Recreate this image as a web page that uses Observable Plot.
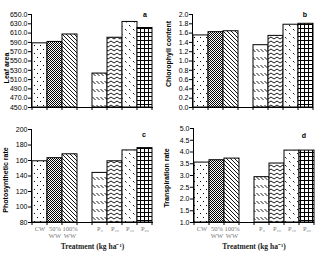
<!DOCTYPE html>
<html><head><meta charset="utf-8">
<script src="https://cdn.jsdelivr.net/npm/d3@7"></script>
<script src="https://cdn.jsdelivr.net/npm/@observablehq/plot@0.6"></script>
<style>
body{margin:0;background:#fff;}
#c{position:relative;width:321px;height:255px;overflow:hidden;background:#fff}
#c svg{position:absolute;overflow:visible}
</style>
</head><body><div id="c"></div>
<script>
// ---- data ----
const controlGroup = ["CW", "50%\nWW", "100%\nWW"];
const productGroup = ["P₀", "P₂₀", "P₄₀", "P₆₀"];
const treatments = [...controlGroup, ...productGroup];
const leafArea = [588, 591, 607, 523, 600, 634, 621];
const chlorophyll = [1.55, 1.62, 1.64, 1.34, 1.54, 1.78, 1.80];
const photosynthesis = [159, 163, 168, 144, 159, 173, 176];
const transpiration = [3.55, 3.65, 3.72, 2.93, 3.51, 4.06, 4.06];
const leafTicks = [450, 470, 490, 510, 530, 550, 570, 590, 610, 630, 650];
const chlTicks = [0, 0.2, 0.4, 0.6, 0.8, 1.0, 1.2, 1.4, 1.6, 1.8, 2.0];
const photoTicks = [80, 100, 120, 140, 160, 180, 200];
const transTicks = [1.0, 1.5, 2.0, 2.5, 3.0, 3.5, 4.0, 4.5, 5.0];
const xTitle = "Treatment (kg ha⁻¹)";

// x domain: two groups separated by an empty slot
const slots = [...controlGroup, " ", ...productGroup];

const patterns = (p) => `
<pattern id="${p}0" width="6" height="8" patternUnits="userSpaceOnUse"><rect width="6" height="8" fill="#fff"/><rect x="1" y="1" width="1" height="1" fill="#000"/><rect x="4" y="5" width="1" height="1" fill="#000"/></pattern>
<pattern id="${p}1" width="2" height="2" patternUnits="userSpaceOnUse"><rect width="2" height="2" fill="#fff"/><rect x="0" y="0" width="1" height="1" fill="#000"/><rect x="1" y="1" width="1" height="1" fill="#000"/></pattern>
<pattern id="${p}2" width="4" height="4" patternUnits="userSpaceOnUse"><rect width="4" height="4" fill="#fff"/><path d="M-1,-1L5,5M-1,3L1,5M3,-1L5,1" stroke="#000" stroke-width="0.9"/></pattern>
<pattern id="${p}3" width="4" height="8" patternUnits="userSpaceOnUse"><rect width="4" height="8" fill="#fff"/><path d="M0.5,1L3.5,4" stroke="#000" stroke-width="0.9"/></pattern>
<pattern id="${p}4" width="6" height="4" patternUnits="userSpaceOnUse"><rect width="6" height="4" fill="#fff"/><path d="M0,3L3,1L6,3" stroke="#000" stroke-width="0.9" fill="none"/></pattern>
<pattern id="${p}5" width="8" height="8" patternUnits="userSpaceOnUse"><rect width="8" height="8" fill="#fff"/><path d="M1,1L2.5,2.5M5,5L6.5,6.5" stroke="#000" stroke-width="0.9"/></pattern>
<pattern id="${p}6" width="4" height="4" patternUnits="userSpaceOnUse"><rect width="4" height="4" fill="#fff"/><path d="M0,0.5H4M0.5,0V4" stroke="#000" stroke-width="1"/></pattern>`;

function panel(o) {
  const data = treatments.map((t, i) => ({t, v: o.values[i], i}));
  const marks = data.map(d => Plot.barY([d], {
    x: "t", y1: o.ticks[0], y2: "v",
    fill: `url(#${o.key}${d.i})`, stroke: "#000", strokeWidth: 1
  }));
  marks.push(Plot.ruleY([o.ticks[0]], {stroke: "#000", strokeWidth: 1}));
  if (o.showX) {
    marks.push(Plot.text(treatments, {
      x: d => d, frameAnchor: "bottom", lineAnchor: "top", dy: 3,
      fontFamily: "Liberation Serif", fontSize: 6.5, fill: "#777", lineHeight: 1.15
    }));
    marks.push(Plot.text([xTitle], {
      frameAnchor: "bottom", lineAnchor: "middle", dy: 24,
      fontFamily: "Liberation Serif", fontSize: 7.5, fontWeight: "bold", fill: "#222"
    }));
  }
  const plot = Plot.plot({
    width: o.width, height: o.height,
    marginLeft: o.m[0], marginRight: o.m[1], marginTop: o.m[2], marginBottom: o.m[3],
    style: {fontFamily: "Liberation Sans", fontSize: "7px", background: "transparent", color: "#000"},
    x: {type: "band", domain: slots, padding: 0, axis: null},
    y: {domain: [o.ticks[0], o.ticks[o.ticks.length - 1]], ticks: o.ticks,
        tickFormat: d3.format(o.fmt), tickSize: 3, tickPadding: 1, label: null},
    marks
  });
  plot.style.left = o.left + "px";
  plot.style.top = o.top + "px";
  const svg = d3.select(plot);
  svg.insert("defs", ":first-child").html(patterns(o.key));
  const xs = plot.scale("x"), ys = plot.scale("y");
  const yb = ys.apply(o.ticks[0]), yt = ys.apply(o.ticks[o.ticks.length - 1]);
  const x0 = o.m[0];
  const g = svg.append("g").attr("stroke", "#000").attr("stroke-width", 1);
  g.append("line").attr("x1", x0 + 0.5).attr("x2", x0 + 0.5).attr("y1", yt).attr("y2", yb);
  const edges = slots.map(s => xs.apply(s)).concat([xs.apply(slots[slots.length - 1]) + xs.bandwidth]);
  edges.forEach(e => g.append("line").attr("x1", e).attr("x2", e).attr("y1", yb).attr("y2", yb + 3));
  svg.append("text").attr("transform", `translate(${o.title[1]},${o.title[2]}) rotate(-90)`)
    .attr("text-anchor", "middle").attr("dominant-baseline", "middle")
    .attr("font-family", "Liberation Sans").attr("font-size", 7).attr("font-weight", "bold")
    .text(o.title[0]);
  svg.append("text").attr("x", o.letter[1]).attr("y", o.letter[2])
    .attr("text-anchor", "middle").attr("dominant-baseline", "middle")
    .attr("font-family", "Liberation Sans").attr("font-size", 7).attr("font-weight", "bold")
    .text(o.letter[0]);
  document.getElementById("c").appendChild(plot);
}

panel({key: "pa", values: leafArea, ticks: leafTicks, fmt: ".1f", left: 0, top: 0, width: 160, height: 120,
  m: [31, 7, 14, 13], title: ["Leaf area", 7, 68], letter: ["a", 145, 15], showX: false});
panel({key: "pb", values: chlorophyll, ticks: chlTicks, fmt: ".1f", left: 160, top: 0, width: 161, height: 120,
  m: [32, 8, 14, 13], title: ["Chlorophyll content", 9, 54], letter: ["b", 145, 15], showX: false});
panel({key: "pc", values: photosynthesis, ticks: photoTicks, fmt: "d", left: 0, top: 120, width: 160, height: 135,
  m: [31, 7, 9, 33], title: ["Photosynthetic rate", 6, 60], letter: ["c", 144, 15], showX: true});
panel({key: "pd", values: transpiration, ticks: transTicks, fmt: ".1f", left: 160, top: 120, width: 161, height: 135,
  m: [33, 7, 8, 33], title: ["Transpiration rate", 7, 58], letter: ["d", 144, 16], showX: true});
</script>
</body></html>
